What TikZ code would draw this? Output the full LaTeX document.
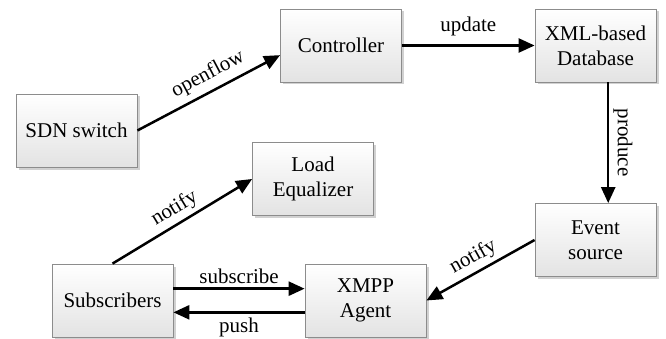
\documentclass[tikz,border=0pt]{standalone}
\usepackage{fontspec}
\setmainfont{Liberation Serif}
\newfontfamily\diafont{Liberation Serif}
\usetikzlibrary{arrows.meta,shadows}
\newlength{\du}
\setlength{\du}{1pt}
\definecolor{boxline}{rgb}{0.55,0.55,0.55}
\definecolor{boxbottom}{rgb}{0.89,0.89,0.89}
\definecolor{shadowcolor}{rgb}{0.82,0.82,0.82}

\begin{document}
\begin{tikzpicture}[
  box/.style={draw=boxline, line width=0.8\du, top color=white, bottom color=boxbottom,
    minimum width=121\du, minimum height=73\du, inner sep=0pt, align=center,
    font=\diafont\fontsize{21}{25}\selectfont,
    drop shadow={shadow xshift=2.5\du, shadow yshift=-2.5\du, fill=shadowcolor, opacity=1}},
  flow/.style={line width=2.5\du, -{Triangle[length=16pt,width=14pt]}},
  lbl/.style={font=\diafont\fontsize{21}{25}\selectfont, inner sep=4\du}
]
\useasboundingbox (0\du,0\du) rectangle (666\du,338\du);
% boxes
\node[box] (sdn) at (76.5\du,207.5\du) {SDN switch};
\node[box] (ctrl) at (341.000000\du,292.500000\du) {Controller};
\node[box] (xmldb) at (595.500000\du,292.500000\du) {XML-based\\Database};
\node[box] (loadeq) at (313.000000\du,159.000000\du) {Load\\Equalizer};
\node[box] (evsrc) at (595.500000\du,98.000000\du) {Event\\source};
\node[box] (subs) at (112.500000\du,37.500000\du) {Subscribers};
\node[box] (xmpp) at (365.500000\du,37.500000\du) {XMPP\\Agent};
% arrows
\draw[flow] (sdn.east) -- (ctrl.189) node[lbl, pos=0.55, sloped, above, inner sep=6\du] {openflow};
\draw[flow] (ctrl.east) -- (xmldb.west) node[lbl, midway, above, yshift=4\du] {update};
\draw[flow] (xmldb.289) -- (evsrc.71) node[lbl, midway, sloped, above] {produce};
\draw[flow] (evsrc.west) -- (xmpp.east) node[lbl, midway, sloped, above] {notify};
\draw[flow] (subs.north) -- (loadeq.west) node[lbl, midway, sloped, above] {notify};
\draw[flow] (subs.11) -- (xmpp.169) node[lbl, midway, above] {subscribe};
\draw[flow] (xmpp.191) -- (subs.349) node[lbl, midway, below] {push};
\end{tikzpicture}
\end{document}
